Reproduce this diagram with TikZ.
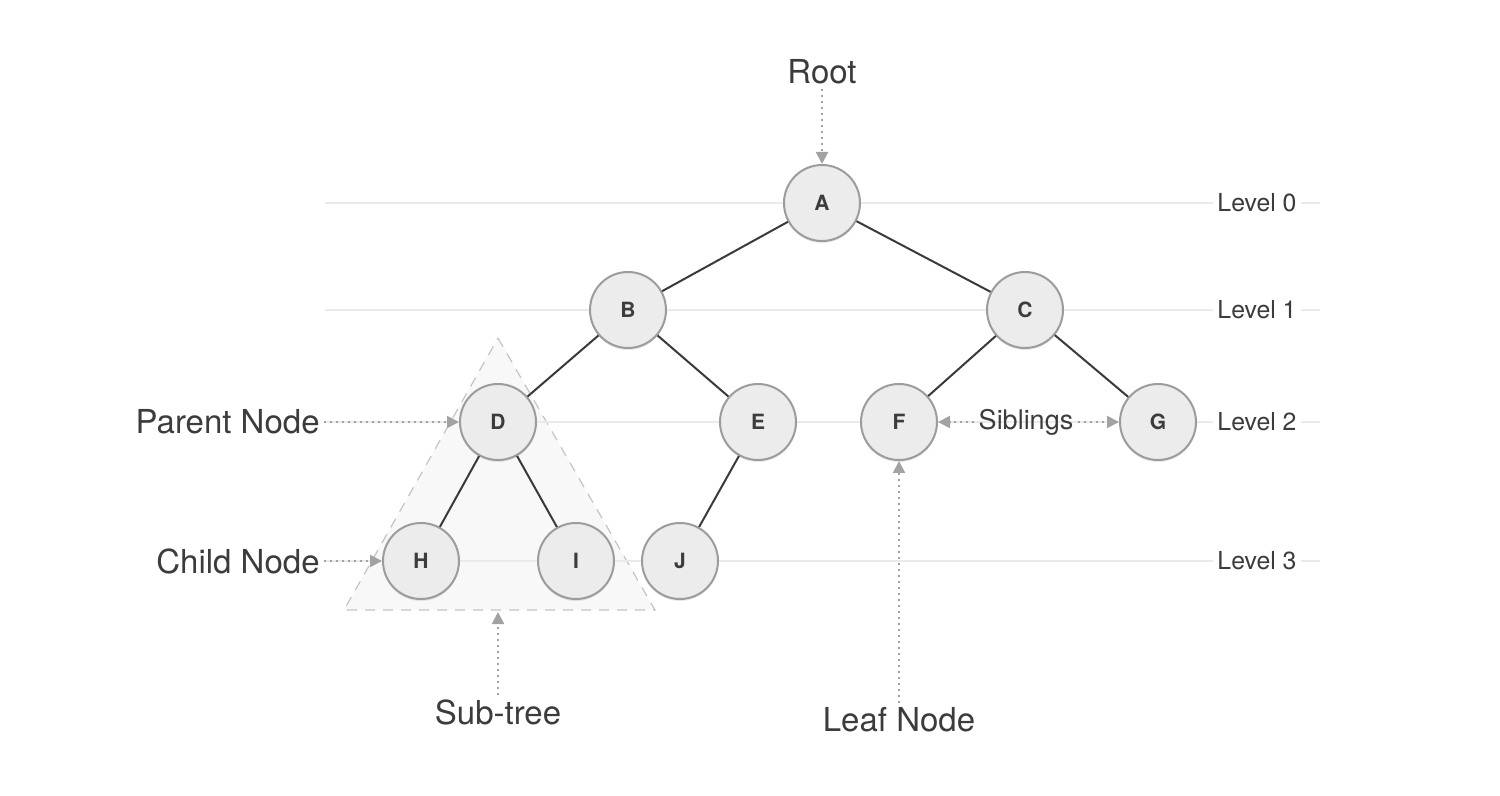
\documentclass[tikz,border=0pt]{standalone}
\usepackage{fontspec}
\setmainfont{TeX Gyre Heros}
\usetikzlibrary{arrows.meta,shadows}

\definecolor{nodefill}{HTML}{ECECEC}
\definecolor{nodeline}{HTML}{9C9C9C}
\definecolor{edgegray}{HTML}{3A3A3A}
\definecolor{textgray}{HTML}{3C3C3C}
\definecolor{pointgray}{HTML}{A2A2A2}
\definecolor{levelgray}{HTML}{EAEAEA}
\definecolor{subfill}{HTML}{F8F8F8}
\definecolor{subline}{HTML}{C4C4C4}

\tikzset{
  treenode/.style={circle,draw=nodeline,fill=nodefill,line width=1pt,minimum size=38pt,inner sep=0pt,
    text=textgray,font=\bfseries\fontsize{10.5}{11}\selectfont,
    drop shadow={opacity=0.18,shadow xshift=0pt,shadow yshift=-1pt}},
  treeedge/.style={draw=edgegray,line width=1pt},
  bigtext/.style={text=textgray,inner sep=2pt,font=\fontsize{16.5}{18}\selectfont},
  leveltext/.style={text=textgray,fill=white,inner sep=2pt,font=\fontsize{12.4}{14}\selectfont},
  pointer/.style={draw=pointgray,line width=1pt,dotted,-{Triangle[length=6pt,width=6pt,fill=pointgray]}},
}

\begin{document}
\begin{tikzpicture}[x=0.5pt,y=0.5pt,yscale=-1,xscale=1]
\useasboundingbox (0,0) rectangle (1500,796);

%Shape: Sub-tree triangle
\draw [fill=subfill,draw=subline,line width=0.6pt,dash pattern=on 5pt off 4pt] (498,338) -- (655,610) -- (344,610) -- cycle ;
\coordinate (subbase) at (498,612);

%Level lines
\foreach \ly/\ln in {203/0,310/1,422/2,561/3}{
  \draw [levelgray,line width=0.6pt] (325,\ly) -- (1320,\ly) ;
  \node [leveltext] (lev\ln) at (1257,\ly) {Level \ln};
}

%Tree nodes
\node [treenode] (A) at (822,203) {A};
\node [treenode] (B) at (628,310) {B};
\node [treenode] (C) at (1025,310) {C};
\node [treenode] (D) at (498,422) {D};
\node [treenode] (E) at (758,422) {E};
\node [treenode] (F) at (899,422) {F};
\node [treenode] (G) at (1158,422) {G};
\node [treenode] (H) at (421,561) {H};
\node [treenode] (I) at (576,561) {I};
\node [treenode] (J) at (680,561) {J};

%Tree edges
\draw [treeedge] (A) -- (B) ;
\draw [treeedge] (A) -- (C) ;
\draw [treeedge] (B) -- (D) ;
\draw [treeedge] (B) -- (E) ;
\draw [treeedge] (C) -- (F) ;
\draw [treeedge] (C) -- (G) ;
\draw [treeedge] (D) -- (H) ;
\draw [treeedge] (D) -- (I) ;
\draw [treeedge] (E) -- (J) ;

% Text Node
\node [bigtext] (root) at (822,72) {Root};
% Text Node
\node [bigtext,anchor=east] (parent) at (324,422) {Parent Node};
% Text Node
\node [bigtext,anchor=east] (child) at (324,561) {Child Node};
% Text Node
\node [bigtext] (subtree) at (498,712) {Sub-tree};
% Text Node
\node [bigtext] (leaf) at (899,720) {Leaf Node};
% Text Node
\node [text=textgray,inner sep=2pt,font=\fontsize{13.5}{15}\selectfont] (sib) at (1026,422) {Siblings};

%Pointers
\draw [pointer] (root) -- (A) ;
\draw [pointer] (parent) -- (D) ;
\draw [pointer] (child) -- (H) ;
\draw [pointer] (sib) -- (F) ;
\draw [pointer] (sib) -- (G) ;
\draw [pointer] (leaf) -- (F) ;
\draw [pointer] (subtree) -- (subbase) ;

\end{tikzpicture}
\end{document}
